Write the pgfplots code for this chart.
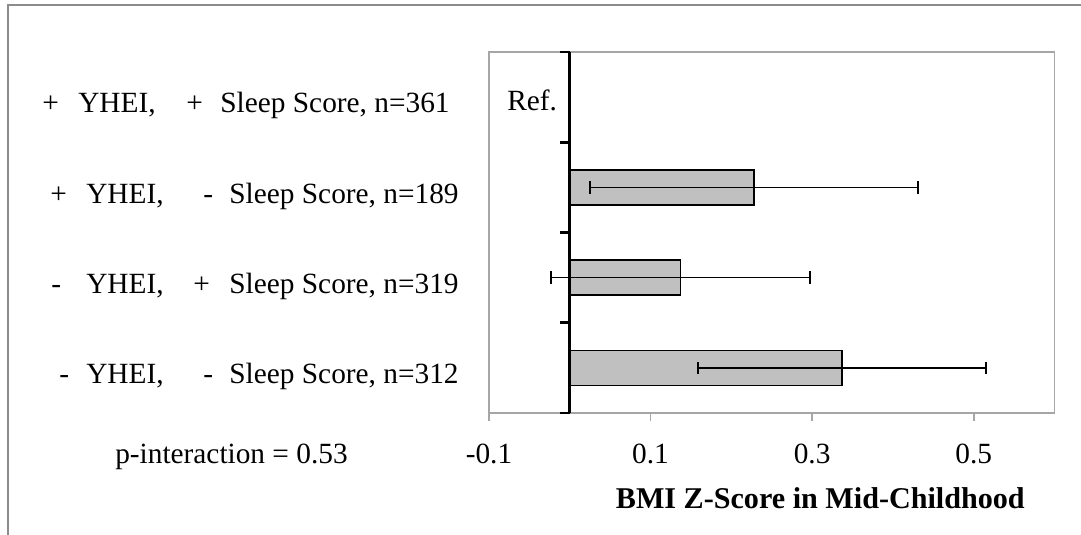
\documentclass[border=0pt]{standalone}
\usepackage{pgfplots}
\pgfplotsset{compat=1.18}
\usepackage{fontspec}
\setmainfont{Liberation Serif}
\definecolor{barfill}{HTML}{C0C0C0}
\definecolor{framegray}{HTML}{A6A6A6}
\definecolor{outergray}{HTML}{8C8C8C}
\newcommand{\lbl}{\fontsize{22}{26}\selectfont}
\begin{document}
\begin{tikzpicture}
\begin{scope}[x=0.75pt,y=-0.75pt, every node/.style={font=\lbl, inner sep=0pt}]
\useasboundingbox (0,0) rectangle (1081,535);
\draw[outergray, line width=1.5pt] (8,545) -- (8,5.5) -- (1095,5.5);
% row labels
\node[anchor=base west] at (42,113) {+};
\node[anchor=base west] at (78,113) {YHEI,};
\node[anchor=base west] at (186,113) {+};
\node[anchor=base] at (335,113) {Sleep Score, n=361};
\node[anchor=base west] at (50,203) {+};
\node[anchor=base west] at (86,203) {YHEI,};
\node[anchor=base west] at (203,203) {-};
\node[anchor=base] at (344,203) {Sleep Score, n=189};
\node[anchor=base west] at (51,293) {-};
\node[anchor=base west] at (86,293) {YHEI,};
\node[anchor=base west] at (193,293) {+};
\node[anchor=base] at (344,293) {Sleep Score, n=319};
\node[anchor=base west] at (59,383) {-};
\node[anchor=base west] at (86,383) {YHEI,};
\node[anchor=base west] at (203,383) {-};
\node[anchor=base] at (344,383) {Sleep Score, n=312};
\node[anchor=base west] at (507,110) {Ref.};
\node[anchor=base west] at (115,463) {p-interaction = 0.53};
\node[anchor=base east, font=\bfseries\fontsize{22.6}{27}\selectfont] at (1025,508) {BMI Z-Score in Mid-Childhood};
\end{scope}
\begin{axis}[
  at={(366.75pt,-309.75pt)}, anchor=south west,
  scale only axis, width=424.1pt, height=270.75pt,
  xmin=-0.1, xmax=0.6, ymin=0.5, ymax=4.5,
  xtick={-0.1,0.1,0.3,0.5}, xticklabels={-0.1,0.1,0.3,0.5},
  ytick=\empty,
  axis line style={framegray, line width=1.3pt},
  tick align=outside, major tick length=6pt,
  x tick style={framegray, line width=1.3pt},
  xtick pos=bottom,
  xticklabel style={font=\lbl, anchor=base, yshift=-32pt},
  clip=false,
]
\addplot[xbar, bar width=26.25pt, fill=barfill, draw=black, line width=1.1pt,
  error bars/.cd, x dir=both, x explicit, error mark=|,
  error bar style={line width=1.2pt, black},
  error mark options={line width=1.6pt, mark size=4.6pt, black}]
  coordinates {
    (0.337,1) +- (0.178,0)
    (0.137,2) +- (0.160,0)
    (0.228,3) +- (0.203,0)
  };
\addplot[black, line width=2.5pt, forget plot] coordinates {(0,0.5) (0,4.5)};
\draw[black, line width=2pt] (axis cs:0,0.5) -- ++(-7pt,0pt);
\draw[black, line width=2pt] (axis cs:0,1.5) -- ++(-7pt,0pt);
\draw[black, line width=2pt] (axis cs:0,2.5) -- ++(-7pt,0pt);
\draw[black, line width=2pt] (axis cs:0,3.5) -- ++(-7pt,0pt);
\draw[black, line width=2pt] (axis cs:0,4.5) -- ++(-7pt,0pt);
\end{axis}
\end{tikzpicture}
\end{document}
